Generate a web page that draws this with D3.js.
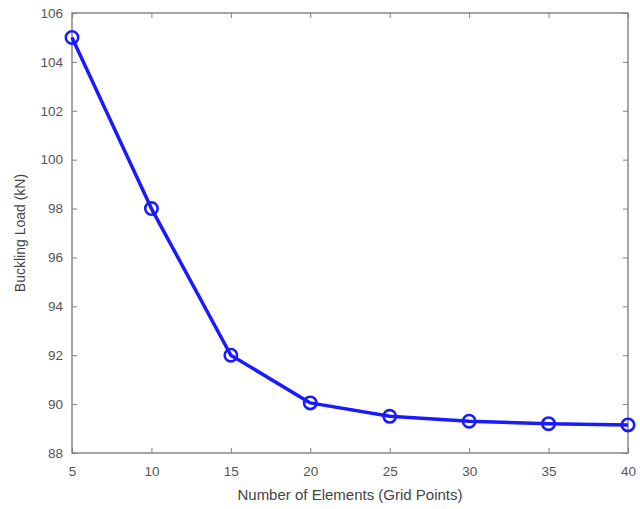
<!DOCTYPE html>
<html><head><meta charset="utf-8">
<script src="https://cdn.jsdelivr.net/npm/d3@7"></script>
<style>body{margin:0;background:#fff;} svg{display:block;}</style>
</head><body>
<script>
const elements = [5, 10, 15, 20, 25, 30, 35, 40];
const bucklingLoad = [105, 98, 92, 90.05, 89.5, 89.3, 89.2, 89.15];
const xTicks = [5, 10, 15, 20, 25, 30, 35, 40];
const yTicks = [88, 90, 92, 94, 96, 98, 100, 102, 104, 106];

const W = 640, H = 509;
const m = {left: 72, right: 12, top: 13, bottom: 56};
const svg = d3.select("body").append("svg").attr("width", W).attr("height", H);
const x = d3.scaleLinear().domain([5, 40]).range([m.left, W - m.right]);
const y = d3.scaleLinear().domain([88, 106]).range([H - m.bottom, m.top]);
const axisColor = "#808080", textColor = "#555";
const font = "Liberation Sans, Arial, sans-serif";

svg.append("rect").attr("x", x(5)).attr("y", y(106)).attr("width", x(40) - x(5)).attr("height", y(88) - y(106))
  .attr("fill", "#fff").attr("stroke", axisColor).attr("stroke-width", 1.4);

function styleAxis(g) {
  g.select(".domain").remove();
  g.selectAll("line").attr("stroke", axisColor).attr("stroke-width", 1);
  g.selectAll("text").attr("fill", textColor).attr("font-family", font).attr("font-size", 13.5);
}
svg.append("g").attr("transform", `translate(0,${y(88)})`)
  .call(d3.axisBottom(x).tickValues(xTicks).tickSize(-5).tickPadding(13).tickFormat(d3.format("d")))
  .call(styleAxis);
svg.append("g").attr("transform", `translate(0,${y(106)})`)
  .call(d3.axisTop(x).tickValues(xTicks).tickSize(-5).tickFormat(""))
  .call(styleAxis);
svg.append("g").attr("transform", `translate(${x(5)},0)`)
  .call(d3.axisLeft(y).tickValues(yTicks).tickSize(-5).tickPadding(9).tickFormat(d3.format("d")))
  .call(styleAxis);
svg.append("g").attr("transform", `translate(${x(40)},0)`)
  .call(d3.axisRight(y).tickValues(yTicks).tickSize(-5).tickFormat(""))
  .call(styleAxis);

const data = elements.map((e, i) => ({x: e, y: bucklingLoad[i]}));
const blue = "#1a1aff";
svg.append("path").datum(data)
  .attr("d", d3.line().x(d => x(d.x)).y(d => y(d.y)))
  .attr("fill", "none").attr("stroke", blue).attr("stroke-width", 3.5).attr("stroke-linejoin", "round");
svg.selectAll("circle.pt").data(data).enter().append("circle").attr("class", "pt")
  .attr("cx", d => x(d.x)).attr("cy", d => y(d.y)).attr("r", 6.2)
  .attr("fill", "none").attr("stroke", blue).attr("stroke-width", 2.6);

svg.append("text").attr("x", (x(5) + x(40)) / 2).attr("y", 500)
  .attr("text-anchor", "middle").attr("fill", "#444").attr("font-family", font).attr("font-size", 15)
  .text("Number of Elements (Grid Points)");
svg.append("text").attr("transform", `translate(25,${(y(88) + y(106)) / 2}) rotate(-90)`)
  .attr("text-anchor", "middle").attr("fill", "#444").attr("font-family", font).attr("font-size", 14)
  .text("Buckling Load (kN)");
</script>
</body></html>
